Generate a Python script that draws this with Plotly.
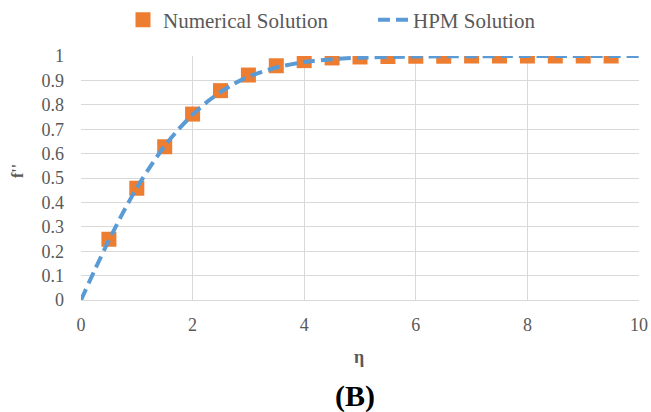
import plotly.graph_objects as go

# Numerical solution points
eta_num = [0.5, 1.0, 1.5, 2.0, 2.5, 3.0, 3.5, 4.0, 4.5, 5.0, 5.5, 6.0, 6.5, 7.0, 7.5, 8.0, 8.5, 9.0, 9.5]
f_num = [0.249, 0.458, 0.628, 0.762, 0.858, 0.922, 0.960, 0.981, 0.992, 0.996, 0.998, 0.999, 0.999, 1.0, 1.0, 1.0, 1.0, 1.0, 1.0]

# HPM solution curve
eta_hpm = [0, 0.25, 0.5, 0.75, 1.0, 1.25, 1.5, 1.75, 2.0, 2.25, 2.5, 2.75, 3.0, 3.5, 4.0, 4.5, 5.0, 6.0, 7.0, 8.0, 9.0, 10.0]
f_hpm = [0.0, 0.125, 0.245, 0.357, 0.460, 0.550, 0.632, 0.700, 0.760, 0.810, 0.852, 0.887, 0.915, 0.953, 0.975, 0.987, 0.993, 0.998, 0.999, 1.0, 1.0, 1.0]

x_ticks = [0, 2, 4, 6, 8, 10]
y_ticks = [0, 0.1, 0.2, 0.3, 0.4, 0.5, 0.6, 0.7, 0.8, 0.9, 1]

FONT = "Liberation Serif, Times New Roman, serif"
GRAY = "#595959"

fig = go.Figure()
fig.add_trace(go.Scatter(
    x=eta_num, y=f_num, mode="markers", name="Numerical Solution",
    marker=dict(symbol="square", size=15, color="#ED7D31"),
))
fig.add_trace(go.Scatter(
    x=eta_hpm, y=f_hpm, mode="lines", name="HPM Solution",
    line=dict(color="#5B9BD5", width=4, dash="12px,6px", shape="spline", smoothing=0.6),
))

fig.update_layout(
    width=651, height=412,
    margin=dict(l=81, r=12, t=56, b=112, autoexpand=False),
    paper_bgcolor="white", plot_bgcolor="white",
    font=dict(family=FONT, size=18, color=GRAY),
    legend=dict(orientation="h", x=(123 - 81) / 558, xanchor="left",
                y=1 + (56 - 20) / 244, yanchor="middle",
                font=dict(family=FONT, size=21, color=GRAY), itemwidth=30,
                entrywidth=205, traceorder="normal"),
    showlegend=True,
)
fig.update_xaxes(range=[0, 10], tickvals=x_ticks, ticktext=[str(v) for v in x_ticks],
                 showgrid=True, gridcolor="#D9D9D9", gridwidth=1.2, zeroline=False,
                 showline=True, linecolor="#D9D9D9", ticks="", ticklabelstandoff=8,
                 tickfont=dict(family=FONT, size=18, color=GRAY))
fig.update_yaxes(range=[0, 1], tickvals=y_ticks, ticktext=[("%g" % v) for v in y_ticks],
                 showgrid=True, gridcolor="#D9D9D9", gridwidth=1.2, zeroline=False,
                 showline=False, ticks="", ticklabelstandoff=16,
                 tickfont=dict(family=FONT, size=18, color=GRAY))

fig.add_annotation(text="<b>η</b>", xref="paper", yref="paper",
                   x=(359 - 81) / 558, y=-(357 - 300) / 244, xanchor="center", yanchor="middle",
                   showarrow=False, font=dict(family=FONT, size=18, color=GRAY))
fig.add_annotation(text="<b>f''</b>", xref="paper", yref="paper",
                   x=-(81 - 17) / 558, y=(300 - 171) / 244, textangle=-90,
                   showarrow=False, xanchor="center", yanchor="middle",
                   font=dict(family=FONT, size=16, color=GRAY))
fig.add_annotation(text="<b>(B)</b>", xref="paper", yref="paper",
                   x=(355 - 81) / 558, y=-(396 - 300) / 244, xanchor="center", yanchor="middle",
                   showarrow=False, font=dict(family=FONT, size=30, color="black"))

fig.write_html("out.html")
